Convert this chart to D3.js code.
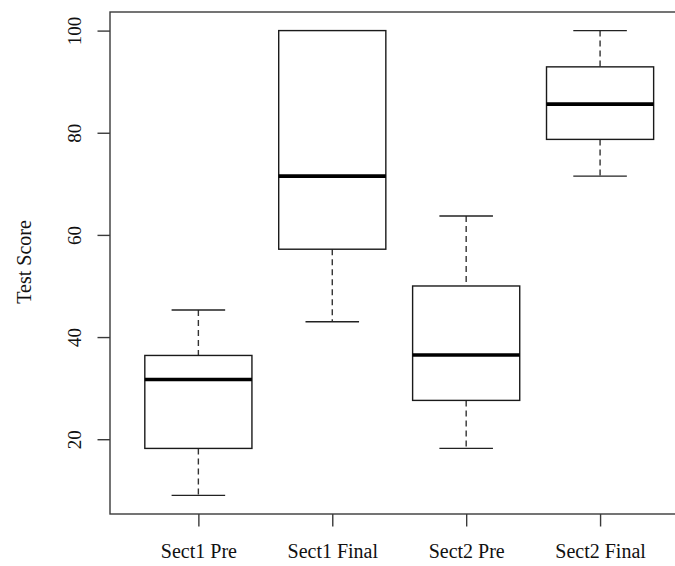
<!DOCTYPE html>
<html>
<head>
<meta charset="utf-8">
<script src="https://cdn.jsdelivr.net/npm/d3@7"></script>
<style>
  html, body { margin: 0; padding: 0; background: #fff; }
  svg { display: block; }
  text { font-family: "Liberation Serif", "Times New Roman", serif; fill: #111; }
</style>
</head>
<body>
<script>
// Test score summaries per section and test (five-number summaries)
const categories = ["Sect1 Pre", "Sect1 Final", "Sect2 Pre", "Sect2 Final"];
const whiskerLow = [9.0, 43.0, 18.2, 71.5];
const q1 = [18.2, 57.2, 27.6, 78.7];
const median = [31.7, 71.5, 36.5, 85.6];
const q3 = [36.4, 100, 50.0, 92.9];
const whiskerHigh = [45.3, 100, 63.7, 100];
const yTicks = [20, 40, 60, 80, 100];
const yTitle = "Test Score";

const W = 675, H = 566;
const plot = { left: 110, top: 12, bottom: 514 };

const svg = d3.select("body").append("svg")
  .attr("width", W).attr("height", H);

// x: positions 1..n, with 4% padding around [0.5, n + 0.5]
const n = categories.length;
const xr = [0.5, n + 0.5];
const xpad = (xr[1] - xr[0]) * 0.04;
const unit = 133.9;
const x = d3.scaleLinear()
  .domain([xr[0] - xpad, xr[1] + xpad])
  .range([plot.left, plot.left + unit * (xr[1] - xr[0] + 2 * xpad)]);

// y: data extent with 4% padding
const lo = d3.min(whiskerLow), hi = d3.max(whiskerHigh);
const ypad = (hi - lo) * 0.04;
const y = d3.scaleLinear()
  .domain([lo - ypad, hi + ypad])
  .range([plot.bottom, plot.top]);

const axisColor = "#3a3a3a";

// plot frame
svg.append("rect")
  .attr("x", x.range()[0]).attr("y", plot.top)
  .attr("width", x.range()[1] - x.range()[0])
  .attr("height", plot.bottom - plot.top)
  .attr("fill", "none").attr("stroke", axisColor).attr("stroke-width", 1.4);

// y axis ticks and labels
const yAxis = d3.axisLeft(y).tickValues(yTicks).tickSize(12.5).tickPadding(0).tickFormat(d3.format("d"));
const gy = svg.append("g").attr("transform", `translate(${plot.left},0)`).call(yAxis);
gy.select(".domain").remove();
gy.selectAll(".tick line").attr("stroke", axisColor).attr("stroke-width", 1.4);
gy.selectAll(".tick text")
  .attr("x", null).attr("dy", null)
  .attr("transform", "translate(-29,0) rotate(-90)")
  .attr("text-anchor", "middle")
  .style("font-size", "19px")
  .style("font-family", "'Liberation Serif', serif")
  .attr("fill", "#111");

// x axis ticks and labels
const xAxis = d3.axisBottom(x).tickValues(d3.range(1, n + 1)).tickSize(12.5).tickPadding(0)
  .tickFormat(i => categories[i - 1]);
const gx = svg.append("g").attr("transform", `translate(0,${plot.bottom})`).call(xAxis);
gx.select(".domain").remove();
gx.selectAll(".tick line").attr("stroke", axisColor).attr("stroke-width", 1.4);
gx.selectAll(".tick text")
  .attr("y", 44).attr("dy", null)
  .style("font-size", "20px")
  .style("font-family", "'Liberation Serif', serif")
  .attr("fill", "#111");

// y axis title
svg.append("text")
  .attr("transform", `translate(31,262) rotate(-90)`)
  .attr("text-anchor", "middle")
  .style("font-size", "20px")
  .text(yTitle);

// boxes
const boxW = 0.8, capW = 0.4;
const data = categories.map((c, i) => ({
  i: i + 1, lo: whiskerLow[i], q1: q1[i], med: median[i], q3: q3[i], hi: whiskerHigh[i]
}));

const g = svg.append("g");
const bx = g.selectAll("g.box").data(data).join("g").attr("class", "box");

// dashed whiskers
bx.append("line")
  .attr("x1", d => x(d.i)).attr("x2", d => x(d.i))
  .attr("y1", d => y(d.hi)).attr("y2", d => y(d.q3))
  .attr("stroke", "#333").attr("stroke-width", 1.4).attr("stroke-dasharray", "6,4");
bx.append("line")
  .attr("x1", d => x(d.i)).attr("x2", d => x(d.i))
  .attr("y1", d => y(d.q1)).attr("y2", d => y(d.lo))
  .attr("stroke", "#333").attr("stroke-width", 1.4).attr("stroke-dasharray", "6,4");

// staples
bx.append("line")
  .attr("x1", d => x(d.i - capW / 2)).attr("x2", d => x(d.i + capW / 2))
  .attr("y1", d => y(d.hi)).attr("y2", d => y(d.hi))
  .attr("stroke", "#222").attr("stroke-width", 1.3);
bx.append("line")
  .attr("x1", d => x(d.i - capW / 2)).attr("x2", d => x(d.i + capW / 2))
  .attr("y1", d => y(d.lo)).attr("y2", d => y(d.lo))
  .attr("stroke", "#222").attr("stroke-width", 1.3);

// interquartile box
bx.append("rect")
  .attr("x", d => x(d.i - boxW / 2))
  .attr("width", d => x(d.i + boxW / 2) - x(d.i - boxW / 2))
  .attr("y", d => y(d.q3))
  .attr("height", d => y(d.q1) - y(d.q3))
  .attr("fill", "#fff").attr("stroke", "#1a1a1a").attr("stroke-width", 1.4);

// median
bx.append("line")
  .attr("x1", d => x(d.i - boxW / 2)).attr("x2", d => x(d.i + boxW / 2))
  .attr("y1", d => y(d.med)).attr("y2", d => y(d.med))
  .attr("stroke", "#000").attr("stroke-width", 3.6);
</script>
</body>
</html>
